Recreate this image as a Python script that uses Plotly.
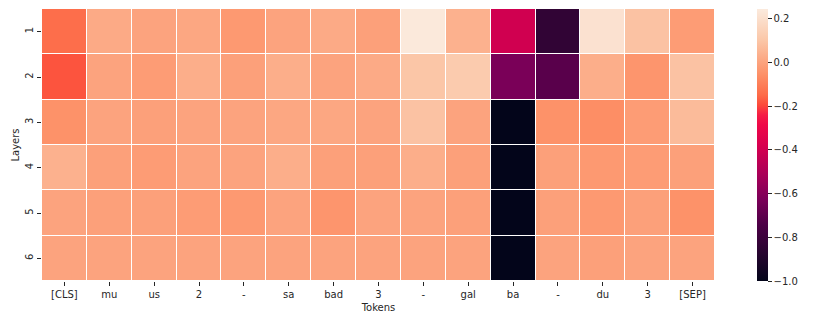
import plotly.graph_objects as go

tokens = ["[CLS]", "mu", "us", "2", "-", "sa", "bad", "3", "-", "gal", "ba", "-", "du", "3", "[SEP]"]
layers = ["1", "2", "3", "4", "5", "6"]

layer1 = [-0.14, 0.02, 0.00, 0.01, -0.03, 0.00, 0.02, -0.01, 0.24, 0.04, -0.40, -0.84, 0.21, 0.09, -0.02]
layer2 = [-0.18, 0.00, -0.02, 0.03, -0.01, 0.03, 0.00, 0.02, 0.10, 0.12, -0.63, -0.71, 0.03, -0.04, 0.09]
layer3 = [-0.05, 0.00, -0.01, 0.00, 0.00, 0.01, 0.01, 0.00, 0.09, 0.00, -1.00, -0.05, -0.06, -0.02, 0.07]
layer4 = [0.04, -0.01, -0.02, 0.00, 0.00, 0.03, -0.01, -0.01, 0.03, -0.01, -1.00, -0.01, -0.03, -0.02, -0.01]
layer5 = [0.00, -0.01, -0.01, -0.02, -0.03, 0.00, -0.04, 0.00, 0.00, -0.01, -1.00, -0.01, -0.03, -0.01, -0.05]
layer6 = [0.00, 0.00, 0.00, 0.00, 0.00, 0.00, 0.00, 0.00, 0.00, 0.00, -1.00, 0.00, -0.01, 0.00, 0.00]

cbar_ticks = [0.2, 0.0, -0.2, -0.4, -0.6, -0.8, -1.0]

z = [layer1, layer2, layer3, layer4, layer5, layer6]

rocket = [
    [0.0, "#03051a"],
    [0.096, "#25052e"],
    [0.206, "#4c0046"],
    [0.298, "#7a0058"],
    [0.39, "#a80058"],
    [0.5, "#d8004f"],
    [0.574, "#ef0848"],
    [0.61, "#f51c45"],
    [0.647, "#fc4a3a"],
    [0.684, "#fd6b48"],
    [0.757, "#fd8f66"],
    [0.886, "#fbc7a8"],
    [1.0, "#fbeadd"],
]

font = dict(family="DejaVu Sans", size=10, color="#262626")

fig = go.Figure(go.Heatmap(
    z=z,
    x=list(range(len(tokens))),
    y=layers,
    colorscale=rocket,
    zmin=-1.0, zmax=0.245,
    xgap=1, ygap=1,
    colorbar=dict(
        x=1.0624, xanchor="left", y=0.5, yanchor="middle",
        len=1.0, lenmode="fraction", thickness=11, outlinewidth=0,
        ypad=0, xpad=0,
        tickvals=cbar_ticks, tickformat=".1f",
        ticks="outside", ticklen=4, tickcolor="#262626",
        tickfont=font,
    ),
))

fig.update_layout(
    width=808, height=311,
    margin=dict(l=34, r=101, t=1, b=38),
    paper_bgcolor="white", plot_bgcolor="white",
    font=font,
    xaxis=dict(
        tickvals=list(range(len(tokens))), ticktext=tokens,
        ticks="outside", ticklen=4, tickcolor="#262626",
        showgrid=False, zeroline=False, showline=False,
        title=dict(text="Tokens", standoff=4, font=font),
    ),
    yaxis=dict(
        autorange="reversed", tickangle=-90,
        ticks="outside", ticklen=4, tickcolor="#262626",
        showgrid=False, zeroline=False, showline=False,
        title=dict(text="Layers", standoff=2, font=font),
    ),
)

fig.write_html("out.html")
